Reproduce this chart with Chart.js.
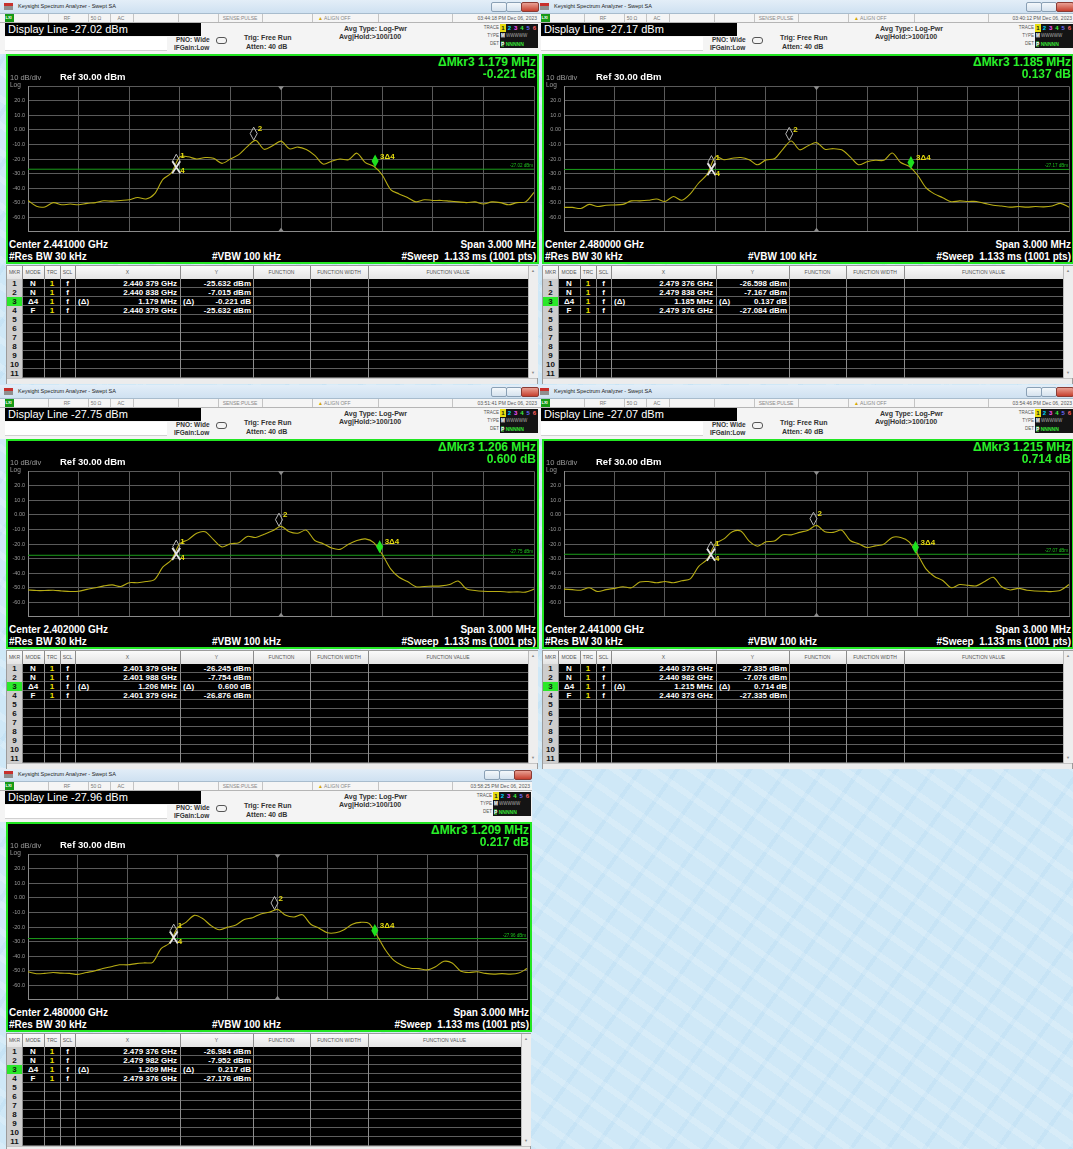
<!DOCTYPE html>
<html>
<head>
<meta charset="utf-8">
<script src="https://cdn.jsdelivr.net/npm/chart.js@4.4.0/dist/chart.umd.min.js"></script>
<style>
html, body { margin: 0; padding: 0; }
body {
    width: 1073px; height: 1149px; position: relative; overflow: hidden;
    background:
        repeating-linear-gradient(35deg, rgba(255,255,255,0.18) 0 6px, rgba(255,255,255,0) 6px 22px),
        repeating-linear-gradient(-55deg, rgba(150,200,235,0.15) 0 4px, rgba(255,255,255,0) 4px 30px),
        #cfe8f7;
    font-family: "Liberation Sans", Arial, sans-serif;
}
canvas { position: absolute; }
</style>
</head>
<body>
<script>
// Spectrum analyzer screenshots - 5 captures of the same marker setup

// frequency offset from center (MHz), shared by every trace
const OFFSET_MHZ = [-1.50,-1.45,-1.40,-1.35,-1.30,-1.25,-1.20,-1.15,-1.10,-1.05,
    -1.00,-0.95,-0.90,-0.85,-0.80,-0.75,-0.70,-0.65,-0.60,-0.55,
    -0.50,-0.45,-0.40,-0.35,-0.30,-0.25,-0.20,-0.15,-0.10,-0.05,
    0.00,0.05,0.10,0.15,0.20,0.25,0.30,0.35,0.40,0.45,
    0.50,0.55,0.60,0.65,0.70,0.75,0.80,0.85,0.90,0.95,
    1.00,1.05,1.10,1.15,1.20,1.25,1.30,1.35,1.40,1.45,1.50];

// trace 1 levels (dBm) for each screen
const TRACE_1 = [-48.5,-52.5,-53,-50,-51.5,-51,-51.5,-50.5,-50,-48.7,-49,-48.5,-48,-46.5,-47.5,-44,-34,-29.5,-18.5,-18.5,
    -20,-19,-19.5,-23,-20,-17,-11.5,-7.2,-13.3,-10.9,-7.7,-13,-11.8,-13.5,-17.5,-23.5,-21.5,-20,-20.5,-16,
    -22.5,-25,-31,-41,-44,-46.5,-49.5,-48,-48.5,-48.5,-49,-49.5,-50,-49.5,-51,-49.5,-50,-51.5,-50,-49.5,-43];
const TRACE_2 = [-53.3,-53.3,-54,-51.2,-52.7,-51.8,-51.6,-51.2,-48.8,-48.8,-48.4,-47.5,-49.2,-45.8,-48.4,-44,-36.5,-30.6,-18.5,-20.5,
    -19.5,-19,-20.5,-24,-20.6,-19.8,-13.3,-7.6,-13.7,-10.9,-8.7,-13.3,-12.9,-13.7,-18.5,-23.9,-21.9,-20.9,-20.9,-15.9,
    -22.4,-25,-31,-39.7,-44,-46.6,-49.4,-48.8,-49.2,-49.2,-50.5,-51.8,-52.3,-53.1,-52.7,-53.1,-52.7,-52.9,-52.3,-50.5,-53.1];
const TRACE_3 = [-51.6,-52,-52,-51.8,-52.3,-52.7,-52.5,-51.2,-50.1,-48.8,-48.1,-49.2,-46.6,-46.6,-45.8,-44.5,-35.8,-31,-19.8,-17,
    -12.6,-11.6,-17,-22,-19.8,-19.2,-14.8,-15.5,-13.3,-10.9,-7.9,-11.6,-12.6,-10.5,-17.6,-19.8,-22.8,-23.7,-20.2,-17.6,
    -16.5,-19,-27.1,-37.1,-42.9,-45.8,-49.4,-49.2,-49,-48.8,-47.9,-45.5,-51,-52,-52.5,-52.7,-52.7,-53.1,-52.9,-53.1,-51];
const TRACE_4 = [-51,-51.4,-51.8,-50.1,-52.7,-51.4,-50.5,-49.4,-50.1,-46.2,-45.8,-46.6,-45.8,-46.6,-45.3,-44,-35.4,-30.6,-19.8,-16.5,
    -11.6,-11.1,-18,-21.5,-18.5,-18,-13.7,-13.7,-12,-10.5,-7.2,-11.6,-12,-10.5,-17.6,-19.8,-22.4,-21.3,-20.2,-15.5,
    -15.5,-18.5,-27.1,-37.1,-42.3,-45.1,-50.1,-47.9,-48.4,-48.8,-45.8,-42.9,-49.4,-51.6,-50.5,-51.8,-52.3,-52.5,-52.7,-51.8,-47.9];
const TRACE_5 = [-50.8,-52.1,-51.9,-51.3,-51.7,-51.9,-52.6,-51.3,-50.2,-48.6,-47.3,-46,-46,-45.2,-44.7,-44.3,-34.9,-31.2,-20.3,-16.8,
    -12,-14.2,-19,-21.9,-20.1,-18.6,-14.9,-13.6,-11,-9.9,-7.9,-12,-13.1,-11.6,-18.1,-20.8,-24,-24,-21.9,-18.1,
    -16.8,-17.5,-26.2,-36,-43,-46.5,-48.4,-48.6,-49.5,-47.3,-43.6,-44.7,-50.2,-51.3,-50.8,-51.9,-52.4,-52.1,-52.4,-51.7,-48.6];
const TRACES = [TRACE_1, TRACE_2, TRACE_3, TRACE_4, TRACE_5];

const CENTERS = ['2.441000', '2.480000', '2.402000', '2.441000', '2.480000'];
const DISPLAY_LINE = [-27.02, -27.17, -27.75, -27.07, -27.96];
const TIMES = ['03:44:18 PM Dec 06, 2023', '03:40:12 PM Dec 06, 2023', '03:51:41 PM Dec 06, 2023',
    '03:54:46 PM Dec 06, 2023', '03:58:25 PM Dec 06, 2023'];
const DELTA_X = ['1.179 MHz', '1.185 MHz', '1.206 MHz', '1.215 MHz', '1.209 MHz'];
const DELTA_Y = ['-0.221 dB', '0.137 dB', '0.600 dB', '0.714 dB', '0.217 dB'];

// markers 1..4 : offset from center (MHz) and level (dBm)
const MKR_OFFSET = [
    [-0.621, -0.162, 0.558, -0.621],
    [-0.624, -0.162, 0.561, -0.624],
    [-0.621, -0.012, 0.585, -0.621],
    [-0.627, -0.018, 0.588, -0.627],
    [-0.624, -0.018, 0.585, -0.624]
];
const MKR_LEVEL = [
    [-25.632, -7.015, -25.853, -25.632],
    [-26.598, -7.167, -26.947, -27.084],
    [-26.245, -7.754, -26.276, -26.876],
    [-27.335, -7.076, -26.621, -27.335],
    [-26.984, -7.952, -26.959, -27.176]
];
const TABLE_X = [
    ['2.440 379 GHz', '2.440 838 GHz', '1.179 MHz', '2.440 379 GHz'],
    ['2.479 376 GHz', '2.479 838 GHz', '1.185 MHz', '2.479 376 GHz'],
    ['2.401 379 GHz', '2.401 988 GHz', '1.206 MHz', '2.401 379 GHz'],
    ['2.440 373 GHz', '2.440 982 GHz', '1.215 MHz', '2.440 373 GHz'],
    ['2.479 376 GHz', '2.479 982 GHz', '1.209 MHz', '2.479 376 GHz']
];
const TABLE_Y = [
    ['-25.632 dBm', '-7.015 dBm', '-0.221 dB', '-25.632 dBm'],
    ['-26.598 dBm', '-7.167 dBm', '0.137 dB', '-27.084 dBm'],
    ['-26.245 dBm', '-7.754 dBm', '0.600 dB', '-26.876 dBm'],
    ['-27.335 dBm', '-7.076 dBm', '0.714 dB', '-27.335 dBm'],
    ['-26.984 dBm', '-7.952 dBm', '0.217 dB', '-27.176 dBm']
];
const MODES = ['N', 'N', 'Δ4', 'F'];

// window placement on the page
const PANELS = [
    { left: 0, top: 0, w: 539 },
    { left: 536, top: 0, w: 538 },
    { left: 0, top: 385, w: 539 },
    { left: 536, top: 385, w: 538 },
    { left: 0, top: 768, w: 532 }
];

const FONT = '"Liberation Sans", Arial, sans-serif';

function el(parent, css, html) {
    const d = document.createElement('div');
    d.style.cssText = 'position:absolute;' + css;
    if (html !== undefined) d.innerHTML = html;
    parent.appendChild(d);
    return d;
}

// text vertically centred on y
function txt(parent, s, x, y, size, color, weight, align) {
    const w = 400;
    let css = `top:${y - size / 2}px;height:${size}px;line-height:${size}px;font-size:${size}px;color:${color};font-weight:${weight || 'normal'};white-space:nowrap;`;
    if (align === 'r') css += `left:${x - w}px;width:${w}px;text-align:right;`;
    else if (align === 'c') css += `left:${x - w / 2}px;width:${w}px;text-align:center;`;
    else css += `left:${x}px;`;
    return el(parent, css, s);
}

// markers, display line label and center ticks
const saOverlay = {
    id: 'saOverlay',
    afterDatasetsDraw(chart, args, opts) {
        const ctx = chart.ctx, xs = chart.scales.x, ys = chart.scales.y, ca = chart.chartArea;
        ctx.save();
        const cx = xs.getPixelForValue(0);
        ctx.fillStyle = '#8c8c8c';
        ctx.beginPath(); ctx.moveTo(cx - 3, ca.top); ctx.lineTo(cx + 3, ca.top); ctx.lineTo(cx, ca.top + 4); ctx.fill();
        ctx.beginPath(); ctx.moveTo(cx - 3, ca.bottom); ctx.lineTo(cx + 3, ca.bottom); ctx.lineTo(cx, ca.bottom - 4); ctx.fill();

        ctx.font = '4.5px ' + FONT;
        ctx.fillStyle = '#1fc01f';
        ctx.textAlign = 'right';
        ctx.textBaseline = 'bottom';
        ctx.fillText(opts.dl.toFixed(2) + ' dBm', ca.right - 1, ys.getPixelForValue(opts.dl) - 1);

        const pts = opts.off.map((o, k) => ({ x: xs.getPixelForValue(o), y: ys.getPixelForValue(opts.lvl[k]) }));
        const diamond = (p, fill) => {
            ctx.beginPath();
            ctx.moveTo(p.x, p.y); ctx.lineTo(p.x - 3.5, p.y - 6.5);
            ctx.lineTo(p.x, p.y - 13); ctx.lineTo(p.x + 3.5, p.y - 6.5); ctx.closePath();
            if (fill) { ctx.fillStyle = fill; ctx.fill(); }
            else { ctx.strokeStyle = '#b5b5b5'; ctx.lineWidth = 1; ctx.stroke(); }
        };
        diamond(pts[0]);
        diamond(pts[1]);
        diamond(pts[2], '#1ee01e');
        // marker 4 (fixed) cross
        const p4 = pts[3];
        ctx.strokeStyle = '#e6e6e6'; ctx.lineWidth = 1.7;
        ctx.beginPath();
        ctx.moveTo(p4.x - 4, p4.y - 6); ctx.lineTo(p4.x + 4, p4.y + 6);
        ctx.moveTo(p4.x + 4, p4.y - 6); ctx.lineTo(p4.x - 4, p4.y + 6);
        ctx.stroke();

        ctx.fillStyle = '#e6dc10';
        ctx.font = 'bold 8px ' + FONT;
        ctx.textAlign = 'left';
        ctx.textBaseline = 'middle';
        ctx.fillText('1', pts[0].x + 4, pts[0].y - 11);
        ctx.fillText('2', pts[1].x + 4, pts[1].y - 11);
        ctx.fillText('3Δ4', pts[2].x + 5, pts[2].y - 11);
        ctx.fillText('4', p4.x + 4, p4.y + 4);
        ctx.restore();
    }
};

function buildPanel(i) {
    const P = PANELS[i], W = P.w;
    const p = el(document.body, `left:${P.left}px;top:${P.top}px;width:${W}px;height:384px;overflow:hidden;z-index:${10 - i};font-family:${FONT};`);

    // window title bar
    el(p, `left:0;top:0;width:${W}px;height:13px;background:linear-gradient(#e3eef8,#cfe1f1);border-bottom:1px solid #a8bccd;`);
    el(p, 'left:4px;top:3px;width:9px;height:7px;background:linear-gradient(#c8302c 0 45%,#8f8f8f 45%);');
    txt(p, 'Keysight Spectrum Analyzer - Swept SA', 18, 7, 5.5, '#222');
    el(p, `left:${W - 48}px;top:2px;width:14px;height:8px;border:1px solid #8aa0b5;border-radius:2px;background:linear-gradient(#f4f8fb,#d5e2ee);`);
    el(p, `left:${W - 33}px;top:2px;width:14px;height:8px;border:1px solid #8aa0b5;border-radius:2px;background:linear-gradient(#f4f8fb,#d5e2ee);`);
    el(p, `left:${W - 18}px;top:2px;width:16px;height:8px;border:1px solid #8a3b34;border-radius:2px;background:linear-gradient(#e9a093,#c6402f);`);

    // status bar
    el(p, `left:0;top:14px;width:${W}px;height:8px;background:#f5f5f5;border-bottom:1px solid #b5b5b5;`);
    el(p, 'left:5px;top:14px;width:9px;height:8px;background:#169a16;');
    txt(p, 'LXI', 5.5, 18, 4, '#fff', 'bold');
    [48, 88, 110, 133, 178, 218, 262, 312, 378, 452].forEach(x => el(p, `left:${x}px;top:14px;width:1px;height:8px;background:#c4c4c4;`));
    txt(p, 'RF', 67, 18, 5, '#777', 'normal', 'c');
    txt(p, '50 Ω', 96, 18, 5, '#777', 'normal', 'c');
    txt(p, 'AC', 121, 18, 5, '#777', 'normal', 'c');
    txt(p, 'SENSE:PULSE', 240, 18, 5, '#888', 'normal', 'c');
    txt(p, '<span style="color:#d6a800">▲</span> ALIGN OFF', 318, 18, 5, '#888');
    txt(p, TIMES[i], W - 2, 18, 5, '#555', 'normal', 'r');

    // settings header
    el(p, `left:0;top:23px;width:${W}px;height:31px;background:#f4f4f4;`);
    el(p, 'left:5px;top:23px;width:196px;height:13px;background:#000;');
    txt(p, 'Display Line ' + DISPLAY_LINE[i].toFixed(2) + ' dBm', 8, 29.5, 11, '#fff');
    el(p, 'left:5px;top:37px;width:162px;height:13px;background:#fff;border-bottom:1px solid #d0d0d0;');
    txt(p, 'PNO: Wide', 176, 40, 6.5, '#333', 'bold');
    txt(p, 'IFGain:Low', 174, 48, 6.5, '#333', 'bold');
    el(p, 'left:216px;top:37px;width:9px;height:5px;border:1px solid #555;border-radius:3px;');
    txt(p, 'Trig: Free Run', 244, 37, 7, '#333', 'bold');
    txt(p, 'Atten: 40 dB', 246, 46, 7, '#333', 'bold');
    txt(p, 'Avg Type: Log-Pwr', 344, 28, 7, '#333', 'bold');
    txt(p, 'Avg|Hold:>100/100', 339, 36.5, 7, '#333', 'bold');
    txt(p, 'TRACE', W - 40, 28, 4.5, '#555', 'normal', 'r');
    txt(p, 'TYPE', W - 40, 36, 4.5, '#555', 'normal', 'r');
    txt(p, 'DET', W - 40, 44, 4.5, '#555', 'normal', 'r');
    el(p, `left:${W - 39}px;top:24px;width:38px;height:24px;background:#141414;`);
    const trColors = ['#141414', '#00d8ff', '#ff50ff', '#40f040', '#6a6aff', '#ff6060'];
    trColors.forEach((c, k) => {
        el(p, `left:${W - 39 + k * 6.3}px;top:24px;width:6px;height:8px;font-size:6px;line-height:8px;text-align:center;font-weight:bold;color:${c};` +
            (k === 0 ? 'background:#e6dc10;' : ''), String(k + 1));
    });
    txt(p, '<b style="color:#fff;background:#555">M</b> <span style="color:#aaa">WWWWW</span>', W - 38, 36.5, 4.5, '#aaa');
    txt(p, '<b style="color:#fff;background:#2a7a2a">P</b> <span style="color:#36e036">NNNNN</span>', W - 38, 44, 5, '#aaa', 'bold');

    // analyzer screen
    el(p, `left:6px;top:54px;width:${W - 6}px;height:210px;background:#000;border:2px solid #22e622;box-sizing:border-box;`);
    const cv = document.createElement('canvas');
    cv.width = W - 12; cv.height = 158;
    cv.style.left = '8px'; cv.style.top = '80px';
    p.appendChild(cv);

    txt(p, 'ΔMkr3 ' + DELTA_X[i], W - 3, 62, 12, '#2af02a', 'bold', 'r');
    txt(p, DELTA_Y[i], W - 3, 74, 12, '#2af02a', 'bold', 'r');
    txt(p, '10 dB/div', 10, 77.5, 7.5, '#9a9a9a');
    txt(p, 'Ref 30.00 dBm', 60, 77, 9.5, '#fff', 'bold');
    txt(p, 'Log', 10, 85, 6.5, '#9a9a9a');
    txt(p, 'Center ' + CENTERS[i] + ' GHz', 9, 244.5, 10, '#fff', 'bold');
    txt(p, 'Span 3.000 MHz', W - 3, 244.5, 10, '#fff', 'bold', 'r');
    txt(p, '#Res BW 30 kHz', 9, 256.5, 10, '#fff', 'bold');
    txt(p, '#VBW 100 kHz', 212, 256.5, 10, '#fff', 'bold');
    txt(p, '#Sweep&nbsp; 1.133 ms (1001 pts)', W - 3, 256.5, 10, '#fff', 'bold', 'r');

    // marker table
    const tr = W - 11;
    el(p, `left:6px;top:265px;width:${W - 7}px;height:119px;background:#dedede;border:1px solid #9c9c9c;box-sizing:border-box;`);
    el(p, `left:7px;top:266px;width:${tr - 7}px;height:13px;background:linear-gradient(#fbfbfb,#e4e4e4);`);
    el(p, `left:7px;top:279px;width:${tr - 7}px;height:99px;background:#000;`);
    el(p, 'left:7px;top:279px;width:15px;height:99px;background:#cdcdcd;');
    el(p, 'left:7px;top:297px;width:15px;height:9px;background:#2ae82a;');
    const cols = [7, 22, 44, 60, 75, 180, 253, 310, 368, tr];
    const heads = ['MKR', 'MODE', 'TRC', 'SCL', 'X', 'Y', 'FUNCTION', 'FUNCTION WIDTH', 'FUNCTION VALUE'];
    heads.forEach((h, k) => txt(p, h, (cols[k] + cols[k + 1]) / 2, 272.5, 5, '#555', 'normal', 'c'));
    for (let r = 1; r <= 11; r++) el(p, `left:22px;top:${279 + r * 9 - 1}px;width:${tr - 22}px;height:1px;background:#5e5e5e;`);
    cols.slice(1, -1).forEach(x => el(p, `left:${x}px;top:266px;width:1px;height:112px;background:#8c8c8c;`));
    el(p, `left:${tr}px;top:266px;width:${W - 2 - tr}px;height:112px;background:#eeeeee;border-left:1px solid #bbb;`);
    txt(p, '▲', tr + 5, 271, 4, '#888', 'normal', 'c');
    txt(p, '▼', tr + 5, 373, 4, '#888', 'normal', 'c');
    el(p, `left:7px;top:378px;width:${W - 9}px;height:5px;background:#ececec;border-top:1px solid #c4c4c4;`);
    for (let r = 0; r < 11; r++) {
        const y = 283.5 + r * 9;
        txt(p, String(r + 1), 14.5, y, 8, '#111', 'bold', 'c');
        if (r < 4) {
            txt(p, MODES[r], 33, y, 8, '#fff', 'bold', 'c');
            txt(p, '1', 52, y, 8, '#f0e000', 'bold', 'c');
            txt(p, 'f', 67.5, y, 8, '#fff', 'bold', 'c');
            txt(p, TABLE_X[i][r], 177, y, 8, '#fff', 'bold', 'r');
            txt(p, TABLE_Y[i][r], 251, y, 8, '#fff', 'bold', 'r');
            if (r === 2) {
                txt(p, '(Δ)', 78, y, 8, '#fff', 'bold');
                txt(p, '(Δ)', 183, y, 8, '#fff', 'bold');
            }
        }
    }

    new Chart(cv, {
        type: 'line',
        data: {
            datasets: [
                {
                    data: OFFSET_MHZ.map((f, k) => ({ x: f, y: TRACES[i][k] })),
                    borderColor: '#b7ac14', borderWidth: 1.1, pointRadius: 0, tension: 0.3, order: 1
                },
                {
                    data: [{ x: -1.5, y: DISPLAY_LINE[i] }, { x: 1.5, y: DISPLAY_LINE[i] }],
                    borderColor: '#1b9e1b', borderWidth: 1, pointRadius: 0, order: 2
                }
            ]
        },
        options: {
            responsive: false,
            animation: false,
            devicePixelRatio: 1,
            layout: { padding: { top: 2, bottom: 2, right: 1, left: 0 } },
            plugins: {
                legend: { display: false },
                tooltip: { enabled: false },
                saOverlay: { dl: DISPLAY_LINE[i], off: MKR_OFFSET[i], lvl: MKR_LEVEL[i] }
            },
            scales: {
                x: {
                    type: 'linear', min: -1.5, max: 1.5,
                    ticks: { display: false, stepSize: 0.3 },
                    grid: { color: '#5a5a5a', drawTicks: false },
                    border: { color: '#8a8a8a' }
                },
                y: {
                    min: -70, max: 30,
                    ticks: {
                        stepSize: 10, padding: 3, color: '#9b9b9b',
                        font: { size: 5.5, family: FONT },
                        callback: v => (v === 30 || v === -70) ? '' : (v === 0 ? '0.00' : v.toFixed(1))
                    },
                    grid: { color: '#5a5a5a', drawTicks: false },
                    border: { color: '#8a8a8a' },
                    afterFit: s => { s.width = 20; }
                }
            }
        },
        plugins: [saOverlay]
    });
}

for (let i = 0; i < PANELS.length; i++) buildPanel(i);
</script>
</body>
</html>
